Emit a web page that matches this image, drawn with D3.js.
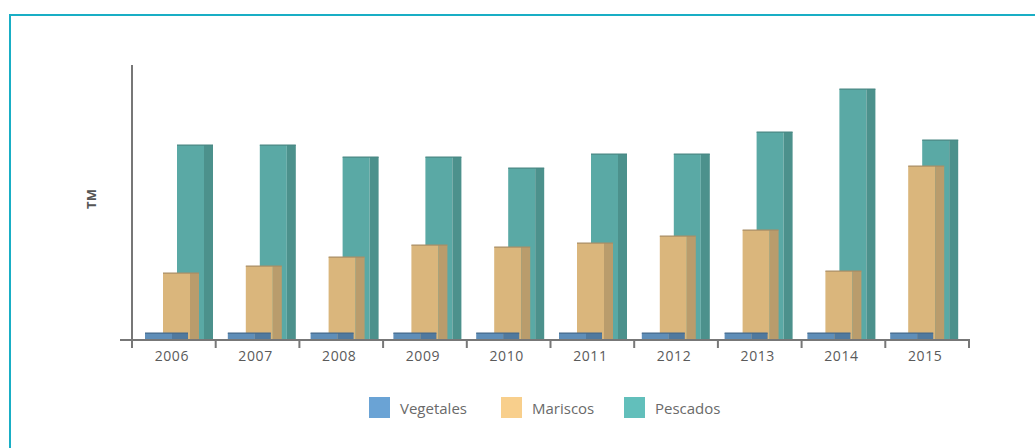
<!DOCTYPE html>
<html>
<head>
<meta charset="utf-8">
<script src="https://cdn.jsdelivr.net/npm/d3@7"></script>
<style>
  body { margin: 0; background: #fff; }
  svg { display: block; font-family: "Open Sans", "Noto Sans", sans-serif; }
</style>
</head>
<body>
<svg width="1035" height="448"></svg>
<script>
// data (TM, approximate)
const years = ["2006", "2007", "2008", "2009", "2010", "2011", "2012", "2013", "2014", "2015"];
const vegetales = [280, 280, 280, 280, 280, 280, 280, 280, 280, 280];
const mariscos = [2680, 2960, 3320, 3800, 3720, 3880, 4160, 4400, 2760, 6960];
const pescados = [7800, 7800, 7320, 7320, 6880, 7440, 7440, 8320, 10040, 8000];

const svg = d3.select("svg");

// frame
svg.append("rect")
   .attr("x", 10).attr("y", 15)
   .attr("width", 1040).attr("height", 450)
   .attr("fill", "none")
   .attr("stroke", "#19aec5")
   .attr("stroke-width", 2);

const x = d3.scaleBand().domain(years).range([132, 969]);
const xBar = d3.scaleBand().domain(years).range([132, 960]);   // bars sit a bit left (perspective)
const y = d3.scaleLinear().domain([0, 11000]).range([340, 65]);

// series drawn back to front
const series = [
  { name: "Pescados",  values: pescados,  off: 45, side: 9,  front: "#5aa9a5", dark: "#4c918c", top: "#4a8884" },
  { name: "Mariscos",  values: mariscos,  off: 31, side: 9,  front: "#dab67c", dark: "#b99c6c", top: "#a88e66" },
  { name: "Vegetales", values: vegetales, off: 13, side: 16, front: "#5f8eb8", dark: "#50799e", top: "#44698a" }
];
const barW = 27;
const base = 339;

series.forEach(s => {
  const g = svg.append("g");
  years.forEach((yr, i) => {
    const x0 = xBar(yr) + s.off;
    const yt = y(s.values[i]);
    g.append("rect")
     .attr("x", x0).attr("y", yt)
     .attr("width", barW).attr("height", base - yt)
     .attr("fill", s.front);
    g.append("rect")
     .attr("x", x0 + barW).attr("y", yt)
     .attr("width", s.side).attr("height", base - yt)
     .attr("fill", s.dark);
    g.append("rect")
     .attr("x", x0).attr("y", yt - 0.5)
     .attr("width", barW + s.side).attr("height", 1.2)
     .attr("fill", s.top);
  });
});

// axes
svg.append("line")
   .attr("x1", 132).attr("y1", 65)
   .attr("x2", 132).attr("y2", 348)
   .attr("stroke", "#777").attr("stroke-width", 2);

svg.append("line")
   .attr("x1", 120).attr("y1", 340)
   .attr("x2", 970).attr("y2", 340)
   .attr("stroke", "#777").attr("stroke-width", 2);

const tickPos = years.map(d => x(d)).concat([x.range()[1]]);
svg.selectAll(".tick")
   .data(tickPos)
   .join("line")
   .attr("x1", d => d).attr("x2", d => d)
   .attr("y1", 340).attr("y2", 348)
   .attr("stroke", "#777").attr("stroke-width", 2);

svg.selectAll(".year")
   .data(years)
   .join("text")
   .attr("x", d => x(d) + x.bandwidth() / 2 - 2)
   .attr("y", 361)
   .attr("text-anchor", "middle")
   .attr("font-size", "14px")
   .attr("letter-spacing", "0.6px")
   .attr("fill", "#5a5a5a")
   .text(d => d);

// y label
svg.append("text")
   .attr("transform", "translate(96,199) rotate(-90)")
   .attr("text-anchor", "middle")
   .attr("font-size", "13px")
   .attr("font-weight", "bold")
   .attr("fill", "#555")
   .text("TM");

// legend
const legend = [
  { name: "Vegetales", color: "#6aa3d5", x: 369 },
  { name: "Mariscos",  color: "#f8cf8c", x: 501 },
  { name: "Pescados",  color: "#62bfbb", x: 624 }
];
const lg = svg.selectAll(".lg").data(legend).join("g");
lg.append("rect")
  .attr("x", d => d.x).attr("y", 397)
  .attr("width", 21).attr("height", 21)
  .attr("fill", d => d.color);
lg.append("text")
  .attr("x", d => d.x + 31).attr("y", 414)
  .attr("font-size", "15px")
  .attr("fill", "#6a6a6a")
  .text(d => d.name);
</script>
</body>
</html>
